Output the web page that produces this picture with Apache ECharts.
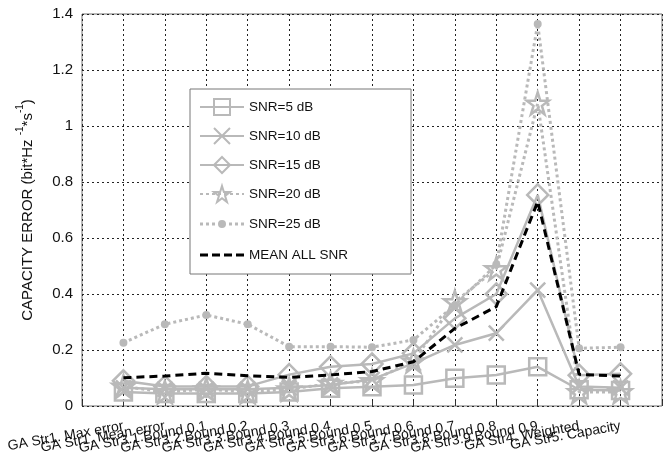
<!DOCTYPE html>
<html>
<head>
<meta charset="utf-8">
<script src="https://cdn.jsdelivr.net/npm/echarts@6/dist/echarts.min.js"></script>
<style>
  html, body { margin: 0; padding: 0; background: #fff; }
  #chart { width: 667px; height: 453px; }
</style>
</head>
<body>
<div id="chart"></div>
<script>
// Strategy names along the horizontal axis
const categories = [
  'GA Str1. Max error', 'GA Str1. Mean error',
  'GA Str3.1.Bound 0.1', 'GA Str3.2.Bound 0.2', 'GA Str3.3.Bound 0.3',
  'GA Str3.4.Bound 0.4', 'GA Str3.5.Bound 0.5', 'GA Str3.6.Bound 0.6',
  'GA Str3.7.Bound 0.7', 'GA Str3.8.Bound 0.8', 'GA Str3.9.Bound 0.9',
  'GA Str4. Weighted', 'GA Str5. Capacity'
];

// Capacity error per strategy (bit*Hz^-1*s^-1)
const snr5    = [0.050, 0.045, 0.045, 0.045, 0.050, 0.063, 0.069, 0.075, 0.099, 0.111, 0.140, 0.058, 0.055];
const snr10   = [0.065, 0.060, 0.060, 0.060, 0.065, 0.075, 0.095, 0.152, 0.218, 0.260, 0.414, 0.070, 0.065];
const snr15   = [0.090, 0.070, 0.070, 0.070, 0.112, 0.140, 0.150, 0.188, 0.313, 0.400, 0.754, 0.110, 0.115];
const snr20   = [0.070, 0.050, 0.060, 0.050, 0.060, 0.080, 0.090, 0.160, 0.372, 0.490, 1.081, 0.050, 0.050];
const snr25   = [0.226, 0.292, 0.325, 0.292, 0.212, 0.212, 0.210, 0.236, 0.360, 0.505, 1.364, 0.206, 0.210];
const meanAll = [0.101, 0.107, 0.117, 0.108, 0.102, 0.111, 0.123, 0.158, 0.277, 0.355, 0.730, 0.113, 0.107];

const yTicks = { min: 0, max: 1.4, step: 0.2 };

const GRAY = '#b9b9b9';
const STAR = 'path://M50,0 L61.8,36.2 L100,36.2 L69.1,58.6 L80.9,95.1 L50,72.4 L19.1,95.1 L30.9,58.6 L0,36.2 L38.2,36.2 Z';
const CROSS = 'path://M0,0 L100,100 M100,0 L0,100';
// Legend icons: dotted line with a small dot, and a dashed line (44x20 box)
const DOT_ICON = 'path://M0,0 M44,20 M0,8.5h3v3h-3z M6,8.5h3v3h-3z M12,8.5h3v3h-3z M29,8.5h3v3h-3z M35,8.5h3v3h-3z M41,8.5h3v3h-3z M18,10a4,4 0 1,0 8,0a4,4 0 1,0 -8,0z';
const DASH_ICON = 'path://M0,0 M44,20 M0,8.5h8v3h-8z M12,8.5h8v3h-8z M24,8.5h8v3h-8z M36,8.5h8v3h-8z';

const pts = arr => arr.map((v, i) => [i, v]);

function graySeries(name, data, symbol, size, dotted, filled) {
  return {
    name: name,
    type: 'line',
    data: pts(data),
    symbol: symbol,
    symbolSize: size,
    lineStyle: {
      color: GRAY,
      width: dotted ? 3 : 2.5,
      type: dotted ? [3, 3] : 'solid',
      cap: 'butt'
    },
    itemStyle: {
      color: filled ? GRAY : 'rgba(255,255,255,0)',
      borderColor: GRAY,
      borderWidth: filled ? 0 : 2.5
    },
    emphasis: { disabled: true },
    animation: false
  };
}

const chart = echarts.init(document.getElementById('chart'), null, { renderer: 'canvas' });

chart.setOption({
  backgroundColor: '#fff',
  textStyle: { fontFamily: 'Liberation Sans, Arial, sans-serif' },
  grid: {
    left: 82, right: 5, top: 14, bottom: 47,
    outerBoundsMode: 'none',
    containLabel: false,
    show: true, borderColor: '#6e6e6e', borderWidth: 1, backgroundColor: 'transparent'
  },
  xAxis: {
    type: 'value',
    min: -1, max: categories.length,
    interval: 1,
    axisLine: { show: false },
    axisTick: { show: true, inside: true, length: 5, lineStyle: { color: '#333' } },
    splitLine: { show: true, lineStyle: { color: '#222', width: 1, type: [2, 3] } },
    axisLabel: {
      rotate: 10,
      margin: 20,
      fontSize: 14,
      color: '#111',
      fontFamily: 'Liberation Sans, Arial, sans-serif',
      formatter: v => (Number.isInteger(v) && v >= 0 && v < categories.length) ? categories[v] : ''
    }
  },
  yAxis: {
    type: 'value',
    min: yTicks.min, max: yTicks.max, interval: yTicks.step,
    axisLine: { show: false },
    axisTick: { show: false },
    splitLine: { show: true, lineStyle: { color: '#222', width: 1, type: [2, 3] } },
    axisLabel: {
      fontSize: 15,
      color: '#111',
      margin: 9,
      formatter: v => String(+v.toFixed(1))
    },
    name: '{a|CAPACITY ERROR (bit*Hz }{s|-1}{a|*s}{s|-1}{a|)}',
    nameLocation: 'middle',
    nameGap: 47,
    nameRotate: 90,
    nameTextStyle: {
      rich: {
        a: { fontSize: 15, color: '#111', lineHeight: 20, verticalAlign: 'bottom', fontFamily: 'Liberation Sans, Arial, sans-serif' },
        s: { fontSize: 10, color: '#111', lineHeight: 20, verticalAlign: 'top', fontFamily: 'Liberation Sans, Arial, sans-serif' }
      }
    }
  },
  legend: {
    orient: 'vertical',
    left: 190, top: 89,
    itemWidth: 44, itemHeight: 20, itemGap: 11,
    padding: [9, 63, 9, 9],
    backgroundColor: '#fff',
    borderColor: '#777',
    borderWidth: 1,
    textStyle: { fontSize: 13.5, color: '#111', fontFamily: 'Liberation Sans, Arial, sans-serif' },
    data: [
      'SNR=5 dB', 'SNR=10 dB', 'SNR=15 dB', 'SNR=20 dB',
      { name: 'SNR=25 dB', icon: DOT_ICON, itemStyle: { color: GRAY } },
      { name: 'MEAN ALL SNR', icon: DASH_ICON, itemStyle: { color: '#000' } }
    ]
  },
  series: [
    graySeries('SNR=5 dB', snr5, 'rect', 17, false, false),
    graySeries('SNR=10 dB', snr10, CROSS, 15, false, false),
    graySeries('SNR=15 dB', snr15, 'diamond', 21, false, false),
    graySeries('SNR=20 dB', snr20, STAR, 22, true, false),
    graySeries('SNR=25 dB', snr25, 'circle', 8, true, true),
    {
      name: 'MEAN ALL SNR',
      type: 'line',
      data: pts(meanAll),
      symbol: 'none',
      lineStyle: { color: '#000', width: 3, type: [8, 5] },
      itemStyle: { color: '#000' },
      emphasis: { disabled: true },
      animation: false,
      z: 5
    }
  ]
});
</script>
</body>
</html>
